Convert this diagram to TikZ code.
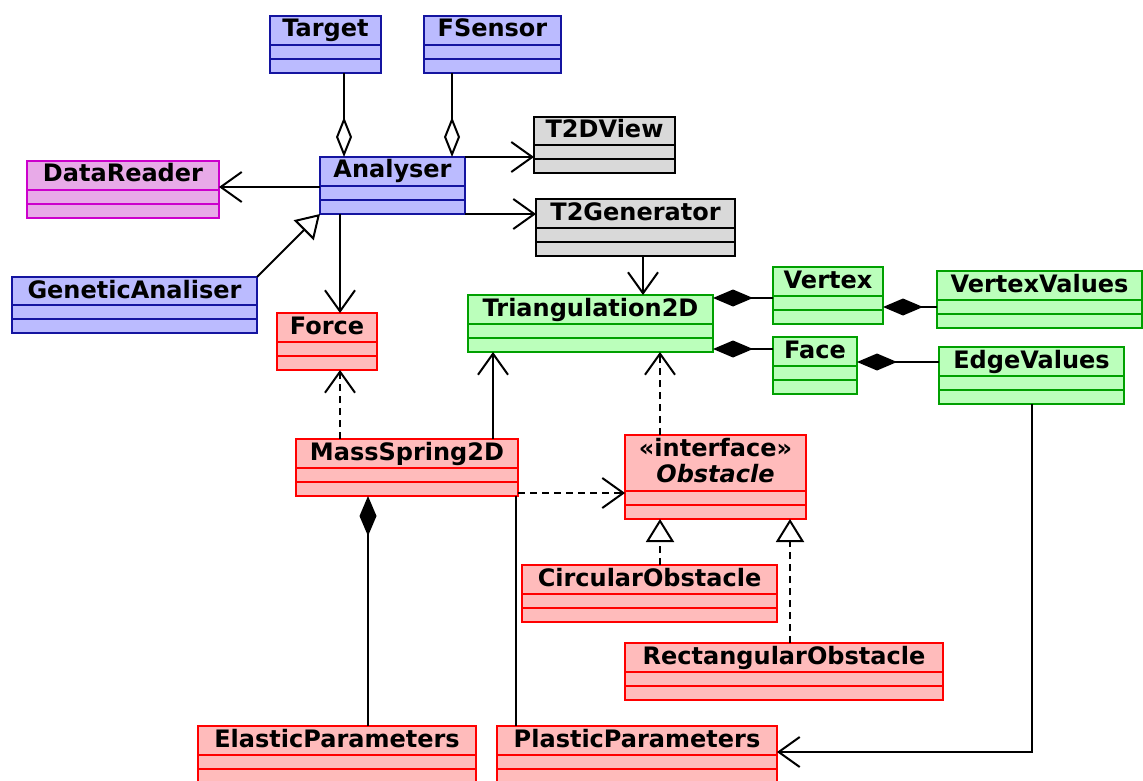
\documentclass[tikz,border=0pt]{standalone}
\usepackage{fontspec}
\usetikzlibrary{arrows.meta}
\newfontfamily\umlfont{DejaVu Sans}

\definecolor{bluFill}{RGB}{187,187,255}
\definecolor{bluLine}{RGB}{20,20,160}
\definecolor{magFill}{RGB}{232,170,232}
\definecolor{magLine}{RGB}{204,0,204}
\definecolor{gryFill}{RGB}{217,217,217}
\definecolor{grnFill}{RGB}{187,255,187}
\definecolor{grnLine}{RGB}{0,160,0}
\definecolor{redFill}{RGB}{255,187,187}
\definecolor{redLine}{RGB}{255,0,0}

\tikzset{
	cls/.style={draw, inner sep=0pt, outer sep=0pt, anchor=north west},
	ttl/.style={font=\umlfont\bfseries\fontsize{24}{26}\selectfont,
		inner sep=0pt, anchor=base},
	blu/.style={fill=bluFill, draw=bluLine},
	mag/.style={fill=magFill, draw=magLine},
	gry/.style={fill=gryFill, draw=black},
	grn/.style={fill=grnFill, draw=grnLine},
	red/.style={fill=redFill, draw=redLine},
	nav/.style={-{Straight Barb[length=21pt, width=30pt]}},
	dep/.style={nav, dash pattern=on 7pt off 5pt},
	gen/.style={-{Triangle[open, length=23pt, width=28pt]}},
	real/.style={gen, dash pattern=on 7pt off 5pt},
	agg/.style={-{Diamond[open, length=40pt, width=16pt]}},
	comp/.style={-{Diamond[length=40pt, width=17pt]}},
}

\begin{document}
\begin{tikzpicture}[x=1pt, y=-1pt, line width=2pt]
	\useasboundingbox (0,0) rectangle (1143,781);
	% classes: name/left/top/width/height/colour/title
	\foreach \n/\x/\y/\w/\h/\col/\txt in {%
		target/270/16/111/57/blu/Target,
		fsensor/424/16/137/57/blu/FSensor,
		t2dview/534/117/141/56/gry/T2DView,
		analyser/320/157/145/57/blu/Analyser,
		datareader/27/161/192/57/mag/DataReader,
		t2generator/536/199/199/57/gry/T2Generator,
		geneticanaliser/12/277/245/56/blu/GeneticAnaliser,
		force/277/313/100/57/red/Force,
		triangulation/468/295/245/57/grn/Triangulation2D,
		vertex/773/267/110/57/grn/Vertex,
		vertexvalues/937/271/205/57/grn/VertexValues,
		face/773/337/84/57/grn/Face,
		edgevalues/939/347/185/57/grn/EdgeValues,
		massspring/296/439/222/57/red/MassSpring2D,
		obstacle/625/435/181/84/red/{\begin{tabular}[t]{@{}c@{}}«interface»\\\textit{Obstacle}\end{tabular}},
		circular/522/565/255/57/red/CircularObstacle,
		rectangular/625/643/318/57/red/RectangularObstacle,
		elastic/198/726/278/57/red/ElasticParameters,
		plastic/497/726/280/57/red/PlasticParameters} {
		\node[cls, \col, minimum width=\w, minimum height=\h] (\n) at (\x,\y) {};
		\node[ttl] (\n-t) at ([yshift=-21]\n.north) {\txt};
		\draw[\col, fill=none] ([yshift=28]\n.south west) -- ([yshift=28]\n.south east)
			([yshift=14]\n.south west) -- ([yshift=14]\n.south east);
	}
	% aggregations
	\draw[agg] ([xshift=18.5]target.south) coordinate (t1) -- (t1 |- analyser.north);
	\draw[agg] ([xshift=-40.5]fsensor.south) coordinate (f1) -- (f1 |- analyser.north);
	% associations
	\draw[nav] (analyser.north east) -- (analyser.north east -| t2dview.west);
	\draw[nav] (analyser.south east) -- (analyser.south east -| t2generator.west);
	\draw[nav] ([yshift=-1.5]analyser.west) -- ([yshift=-1.5]analyser.west -| datareader.east);
	\draw[nav] ([xshift=-52.5]analyser.south) coordinate (a1) -- (a1 |- force.north);
	\draw[nav] ([xshift=7.5]t2generator.south) coordinate (g1) -- (g1 |- triangulation.north);
	\draw[nav] ([xshift=86]massspring.north) coordinate (m1) -- (m1 |- triangulation.south);
	\draw[nav] ([xshift=0.5]edgevalues.south) |- ([yshift=2.5]plastic.east);
	\draw ([xshift=-2]massspring.south east) coordinate (m4) -- (m4 |- plastic.north);
	% inheritance
	\draw[gen] (geneticanaliser.north east) -- (analyser.south west);
	% dependencies and realizations
	\draw[dep] ([xshift=-67]massspring.north) coordinate (m2) -- (m2 |- force.south);
	\draw[dep] ([xshift=-55.5]obstacle.north) coordinate (o1) -- (o1 |- triangulation.south);
	\draw[dep] ([yshift=3]massspring.south east) -- ([yshift=3]massspring.south east -| obstacle.west);
	\draw[real] (o1 |- circular.north) -- (o1 |- obstacle.south);
	\coordinate (o3) at ([xshift=74.5]obstacle.south);
	\draw[real] (o3 |- rectangular.north) -- (o3);
	% compositions
	\draw[comp] ([yshift=-2.5]vertex.west) -- ([yshift=-2.5]vertex.west -| triangulation.east);
	\draw[comp] ([yshift=-7.5]vertexvalues.west) -- ([yshift=-7.5]vertexvalues.west -| vertex.east);
	\draw[comp] ([yshift=-12]face.north west) -- ([yshift=-12]face.north west -| triangulation.east);
	\draw[comp] ([yshift=13.5]edgevalues.west) -- ([yshift=13.5]edgevalues.west -| face.east);
	\coordinate (m3) at ([xshift=-39]massspring.south);
	\draw[comp] (m3 |- elastic.north) -- (m3);
\end{tikzpicture}
\end{document}
